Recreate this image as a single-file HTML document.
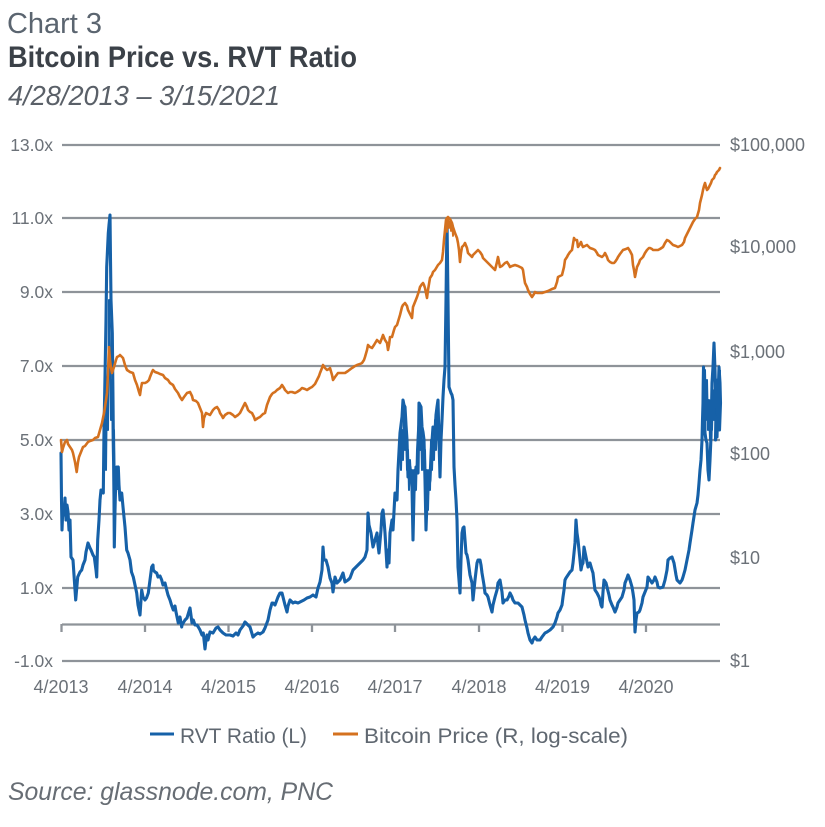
<!DOCTYPE html>
<html>
<head>
<meta charset="utf-8">
<style>
html,body{margin:0;padding:0;background:#fff;}
svg{display:block;}
text{font-family:"Liberation Sans",sans-serif;}
</style>
</head>
<body>
<svg width="825" height="827" viewBox="0 0 825 827" xmlns="http://www.w3.org/2000/svg">
<rect width="825" height="827" fill="#fff"/>
<!-- Titles -->
<text x="7" y="33" font-size="29" fill="#5b6570" textLength="95" lengthAdjust="spacingAndGlyphs">Chart 3</text>
<text x="8" y="67" font-size="30" font-weight="bold" fill="#3b4148" textLength="349" lengthAdjust="spacingAndGlyphs">Bitcoin Price vs. RVT Ratio</text>
<text x="8" y="105" font-size="28" font-style="italic" fill="#5a6068" textLength="272" lengthAdjust="spacingAndGlyphs">4/28/2013 – 3/15/2021</text>

<!-- Gridlines -->
<g stroke="#8e9399" stroke-width="2.3" fill="none">
<line x1="62" y1="145" x2="720" y2="145"/>
<line x1="62" y1="218" x2="720" y2="218"/>
<line x1="62" y1="292" x2="720" y2="292"/>
<line x1="62" y1="366" x2="720" y2="366"/>
<line x1="62" y1="440" x2="720" y2="440"/>
<line x1="62" y1="514" x2="720" y2="514"/>
<line x1="62" y1="588" x2="720" y2="588"/>
<line x1="62" y1="624.5" x2="720" y2="624.5"/>
<line x1="62" y1="661" x2="720" y2="661"/>
<line x1="61.5" y1="624" x2="61.5" y2="632"/>
<line x1="145" y1="624" x2="145" y2="632"/>
<line x1="228.5" y1="624" x2="228.5" y2="632"/>
<line x1="312" y1="624" x2="312" y2="632"/>
<line x1="395" y1="624" x2="395" y2="632"/>
<line x1="479" y1="624" x2="479" y2="632"/>
<line x1="562.5" y1="624" x2="562.5" y2="632"/>
<line x1="646" y1="624" x2="646" y2="632"/>
</g>

<!-- Left axis labels -->
<g font-size="17.5" fill="#6b7178" text-anchor="end">
<text x="53" y="151">13.0x</text>
<text x="53" y="224">11.0x</text>
<text x="53" y="298">9.0x</text>
<text x="53" y="372">7.0x</text>
<text x="53" y="446">5.0x</text>
<text x="53" y="520">3.0x</text>
<text x="53" y="594">1.0x</text>
<text x="53" y="667">-1.0x</text>
</g>

<!-- Right axis labels -->
<g font-size="18" fill="#6b7178">
<text x="730" y="151" textLength="75" lengthAdjust="spacingAndGlyphs">$100,000</text>
<text x="730" y="253" textLength="66" lengthAdjust="spacingAndGlyphs">$10,000</text>
<text x="730" y="358">$1,000</text>
<text x="730" y="460">$100</text>
<text x="730" y="564">$10</text>
<text x="730" y="667">$1</text>
</g>

<!-- X axis labels -->
<g font-size="18" fill="#6b7178" text-anchor="middle">
<text x="61" y="693">4/2013</text>
<text x="145" y="693">4/2014</text>
<text x="228.5" y="693">4/2015</text>
<text x="312" y="693">4/2016</text>
<text x="395" y="693">4/2017</text>
<text x="479" y="693">4/2018</text>
<text x="562.5" y="693">4/2019</text>
<text x="646" y="693">4/2020</text>
</g>

<!-- Blue RVT series -->
<polyline fill="none" stroke="#1661a8" stroke-width="3.1" stroke-linejoin="round" stroke-linecap="round" points="
61,453 61.5,500 62,530 63,505 64,515 65,498 66,520 67,505 68,512 69,530 70,520 71,557 73,560 74,575 75.7,600 77.7,577 80,572 81.7,570 83,565 85,560 86,552 88,543 90,548 91,550 93,555 94.3,557 96,570 96.7,577 97.7,540 99,520 100,500 101,490 103.3,493 104,430 105,377 106,320 106.7,267 107.5,250 108.3,233 109,225 110,215 110.5,260 111,300 112.3,333 113,400 113.3,433 114,500 114.3,547 115,510 115.7,483 116.7,467 117.5,470 118.3,467 119,485 120,500 121.7,493 123.3,510 125,527 126.7,550 128,553 130,560 131.5,572 133.3,577 135,585 136.7,593 138,605 140,615 141,600 141.7,590 143,597 145,600 146.5,598 148.3,593 150,580 151.7,567 153,565 153.3,570 155,572 156.7,573 158,577 160,576 161.7,580 163,585 165,583 166.7,590 168,595 170,600 171.5,605 173.3,610 175,606 176,612 178.3,623 180,617 181.7,627 182,625 185,620 187,618 190,608 192,623 193.3,620 195,625 197,625 198.3,627 200,630 202,635 203.3,633 205,649 206,640 207,635 208,640 210,632 213,633 216,628 218,627 220,630 223,633 226,635 230,635 233,636 236,633 238,635 240,630 243,626 245,622 248,625 250,627 253,637 255,635 258,633 260,634 263,632 265,628 268,620 270,610 272,603 273,603 275,605 278,597 280,593 282,593 283,597 285,605 287,612 288,606 290,600 293,603 295,602 298,603 300,602 304,600 307,598 310,597 313,595 316,597 318,588 320,582 322,570 323,547 324,560 326,560 328,567 330,578 332,583 333,592 335,577 337,583 340,580 343,573 345,582 348,580 350,578 353,570 355,568 358,565 360,563 363,560 365,557 367,550 368,513 369,525 371,533 373,547 375,540 377,533 378,545 379,553 381,530 382,513 383,510 384,520 385,533 386,550 387,567 388,550 389,563 390,533 392,520 393,530 395,493 397,500 398,470 400,433 401,425 402,417 403,400 404,405 405,407 406,425 407,440 408,477 409,470 410,467 411,478 412,487 413,540 414,493 415,480 416,467 417,470 418,473 419,403 420,405 421,407 422,427 423,432 424,440 425,480 426,530 427,500 428,490 429,485 430,480 431,455 433,427 434,430 435,433 436,415 437,407 438,400 439,440 440,477 441,440 442,420 443,397 444,380 445,367 446,300 446.5,260 447,220 447.5,260 448,300 449,387 450,390 451,393 452,395 453,400 454,467 455,485 456,500 457,520 458,567 459,580 460,593 461,560 462,533 463,528 464,527 465,540 466,553 467,555 468,560 470,575 472,583 473,600 475,580 477,563 478,560 480,560 481,565 482,573 484,585 485,593 487,595 488,597 490,605 492,612 493,605 495,597 497,590 498,583 500,580 502,592 503,603 505,600 507,600 509,596 510,593 512,597 513,600 515,603 518,603 520,605 522,607 524,615 525,620 527,628 528,633 530,640 532,643 533,640 535,637 537,640 540,640 542,637 545,633 547,632 550,630 553,627 555,623 557,617 558,613 560,610 562,605 563,597 564,590 565,580 566,578 568,575 570,572 572,570 573,563 574,553 575,543 576,520 577,533 578,540 579,550 580,560 581,570 582,565 583,563 584,547 585,552 586,557 587,562 588,567 590,563 592,570 593,573 594,582 595,590 597,593 599,597 600,600 601,605 602,607 603,592 604,580 606,583 607,587 609,595 610,600 612,605 613,607 615,612 617,607 618,603 620,600 622,597 624,590 625,583 627,578 628,575 630,580 632,587 633,593 634,600 635,632 636,620 637,613 639,612 640,610 642,603 643,597 645,592 647,587 648,577 650,580 652,583 654,580 655,577 657,582 658,587 660,588 663,587 665,580 667,570 668,560 670,558 672,557 674,563 676,575 677,580 679,582 680,583 682,580 683,577 685,570 687,560 689,550 690,543 692,530 693,523 695,510 697,503 698,495 699,483 700,470 701,460 702,440 702.5,420 703,403 703.2,385 703.5,367 704,383 705,433 706,440 707,443 708,470 709,480 710,460 711,437 712,383 713,367 714,343 715,370 716,417 717,437 718,400 719,367 720,383 720.5,403 719.5,430 718.5,390 717.5,410 716.5,380 715.5,440"/>
<!-- extra jitter for noisy regions -->
<polyline fill="none" stroke="#1661a8" stroke-width="2" stroke-linejoin="round" points="
400,440 401,470 402,430 403,460 404,410 405,450 406,430 407,470 408,450 409,490 410,460 411,480 412,470 413,500 414,470 416,490 417,450 418,430 419,420 420,450 421,420 422,470 423,440 424,470 425,450 426,500 427,470 428,510 429,470 430,490 431,440 432,470 433,440 434,460 435,420 436,450 437,420 438,440"/>
<polyline fill="none" stroke="#1661a8" stroke-width="2" stroke-linejoin="round" points="
104,470 105,420 106,470 107,380 108,430 109,300 110,350 111,420 112,380 113,460 114,430 115,500 116,470 117,490"/>
<polyline fill="none" stroke="#1661a8" stroke-width="2" stroke-linejoin="round" points="
704,400 705,370 706,420 707,380 708,430 709,400 710,440 711,400 712,430 713,390 714,420 715,395 716,380 717,415 718,385 719,420 720,370"/>

<!-- Orange Bitcoin price series -->
<polyline fill="none" stroke="#d4711f" stroke-width="2.6" stroke-linejoin="round" stroke-linecap="round" points="
61,440 62,452 63,448 65,442 67,440 68,444 70,447 72,450 73,453 75,462 76.7,472 78,462 79,457 81,452 83,447 85,446 88,442 90,441 93,440 95,438 98,437 100,430 102,423 104,413 105,407 106,400 107,393 108,373 109,347 110,360 111,368 112,373 113,370 114,367 116,360 117,357 119,356 120,355 122,357 123,358 125,365 127,370 130,372 133,373 135,380 137,385 139,392 140,395 141,388 142,383 145,383 147,382 149,380 150,377 152,372 153,370 155,372 158,373 160,374 163,375 165,378 168,380 170,383 173,385 175,389 178,393 180,397 182,400 184,397 187,393 190,392 192,396 193,400 196,401 198,403 200,408 202,413 203,427 204,418 206,413 208,414 210,415 213,410 215,408 217,407 219,410 220,413 222,416 223,418 225,415 228,413 230,413 233,415 235,417 238,415 240,413 243,407 245,403 247,407 248,410 250,412 252,413 254,417 255,420 258,418 260,417 263,414 265,413 267,405 270,397 272,394 273,393 275,392 277,390 280,388 282,385 284,388 285,390 287,392 288,393 290,392 292,392 295,393 297,392 300,390 302,388 305,389 307,390 310,388 312,387 315,384 317,380 319,376 320,373 322,368 323,365 325,368 327,370 329,369 330,368 332,375 333,380 335,377 338,373 341,373 345,373 348,371 352,368 355,366 357,365 360,364 362,363 364,360 365,357 367,350 368,345 370,347 372,348 374,345 377,340 379,342 380,343 382,338 383,335 385,340 387,343 388,350 389,345 390,337 392,337 394,330 395,327 397,325 400,315 402,307 403,305 405,303 407,306 408,310 410,314 412,318 413,307 415,302 417,297 419,291 420,287 422,284 423,283 424,285 425,288 426,293 427,298 428,290 430,278 432,275 433,272 435,270 438,265 440,263 442,260 443,252 444,240 445,230 446,220 447,218 448,217 450,219 452,223 453,227 455,233 457,238 458,243 459,250 460,262 461,253 462,247 464,245 465,243 467,248 468,253 470,255 472,257 473,255 475,253 477,251 478,250 480,252 482,255 483,258 485,260 487,262 488,263 490,265 492,267 494,269 495,270 497,262 498,257 499,262 500,267 502,266 503,265 505,263 507,262 509,265 510,267 512,266 515,265 518,266 520,267 522,268 523,270 524,277 525,283 527,287 528,290 530,294 532,297 534,294 535,292 537,293 540,293 542,293 545,292 548,291 550,290 552,289 555,288 557,282 558,277 560,276 562,275 564,267 565,260 567,257 568,255 570,252 572,250 573,244 574,238 575,240 577,240 578,247 580,244 581,242 582,245 583,247 585,246 587,245 589,247 590,248 593,249 595,250 597,253 598,255 600,256 602,257 604,255 605,253 607,257 608,260 610,262 612,263 614,263 615,262 617,259 618,257 620,254 623,250 626,249 628,248 630,251 632,255 633,265 634,270 635,277 636,272 637,267 639,263 640,260 642,258 643,257 645,253 647,250 649,248 650,248 652,249 653,250 655,250 658,250 660,249 663,247 665,243 667,240 669,241 670,242 672,244 673,245 676,246 678,247 680,246 682,245 684,242 685,238 687,234 688,232 690,228 693,222 695,219 697,217 699,210 700,203 702,195 703,190 704,186 705,183 706,187 707,190 708,189 709,187 711,183 712,180 714,178 715,175 716,174 717,172 719,170 720,168"/>
<polyline fill="none" stroke="#d4711f" stroke-width="1.8" stroke-linejoin="round" points="
446,222 447,232 448,219 449,228 450,221 451,231 452,225 453,236 454,229"/>

<!-- Legend -->
<line x1="150" y1="734" x2="174" y2="734" stroke="#1661a8" stroke-width="3"/>
<text x="180" y="743" font-size="21" fill="#5f6770" textLength="127" lengthAdjust="spacingAndGlyphs">RVT Ratio (L)</text>
<line x1="333" y1="734" x2="358" y2="734" stroke="#d4711f" stroke-width="3"/>
<text x="364" y="743" font-size="21" fill="#5f6770" textLength="264" lengthAdjust="spacingAndGlyphs">Bitcoin Price (R, log-scale)</text>

<!-- Source -->
<text x="8" y="800" font-size="25" font-style="italic" fill="#676d74" textLength="325" lengthAdjust="spacingAndGlyphs">Source: glassnode.com, PNC</text>
</svg>
</body>
</html>
